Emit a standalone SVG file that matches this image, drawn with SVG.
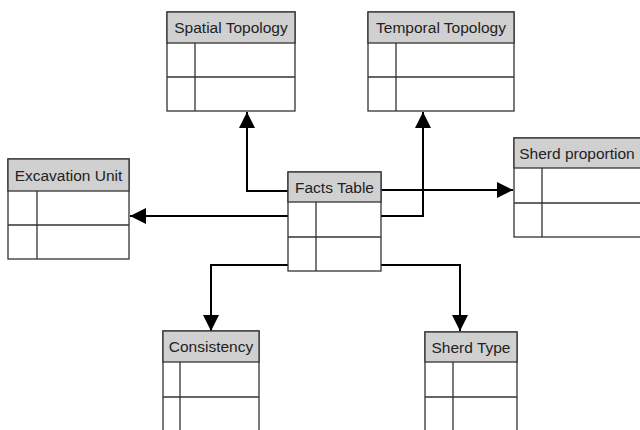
<svg xmlns="http://www.w3.org/2000/svg" width="640" height="430" viewBox="0 0 640 430">
<style>
.box{fill:#fff;stroke:#333;stroke-width:1.3}
.hdr{fill:#d0d0d0;stroke:#333;stroke-width:1.3}
.ln{stroke:#333;stroke-width:1.3;fill:none}
.lbl{font-family:"Liberation Sans",Arial,sans-serif;font-size:15.5px;fill:#222;text-anchor:middle}
.con{stroke:#000;stroke-width:2;fill:none}
</style>
<defs>
<marker id="arr" viewBox="0 0 16 16" refX="16" refY="8" markerWidth="16" markerHeight="16" markerUnits="userSpaceOnUse" orient="auto">
<path d="M0,0 L16,8 L0,16 Z" fill="#000"/>
</marker>
</defs>
<rect width="640" height="430" fill="#fff"/>
<g id="connectors">
<path class="con" d="M288,191 H247 V112" marker-end="url(#arr)"/>
<path class="con" d="M381,216 H423 V112" marker-end="url(#arr)"/>
<path class="con" d="M381,190 H513" marker-end="url(#arr)"/>
<path class="con" d="M288,216 H130" marker-end="url(#arr)"/>
<path class="con" d="M288,265 H211 V331" marker-end="url(#arr)"/>
<path class="con" d="M381,265 H460 V331" marker-end="url(#arr)"/>
</g>
<g id="spatial-topology">
<rect class="box" x="167" y="12" width="128" height="99"/>
<rect class="hdr" x="167" y="12" width="128" height="31"/>
<path class="ln" d="M167,77 H295 M195,43 V111"/>
<text class="lbl" x="231" y="33">Spatial Topology</text>
</g>
<g id="temporal-topology">
<rect class="box" x="368" y="12" width="146" height="99"/>
<rect class="hdr" x="368" y="12" width="146" height="31"/>
<path class="ln" d="M368,77 H514 M396,43 V111"/>
<text class="lbl" x="441" y="33">Temporal Topology</text>
</g>
<g id="excavation-unit">
<rect class="box" x="8" y="159" width="121" height="100"/>
<rect class="hdr" x="8" y="159" width="121" height="32"/>
<path class="ln" d="M8,225 H129 M37,191 V259"/>
<text class="lbl" x="68.5" y="181">Excavation Unit</text>
</g>
<g id="facts-table">
<rect class="box" x="288" y="172" width="93" height="99"/>
<rect class="hdr" x="288" y="172" width="93" height="30"/>
<path class="ln" d="M288,237 H381 M316,202 V271"/>
<text class="lbl" x="334.5" y="193">Facts Table</text>
</g>
<g id="sherd-proportion">
<rect class="box" x="514" y="138" width="130" height="99"/>
<rect class="hdr" x="514" y="138" width="130" height="30"/>
<path class="ln" d="M514,203 H644 M542,168 V237"/>
<text class="lbl" x="577" y="159">Sherd proportion</text>
</g>
<g id="consistency">
<rect class="box" x="163" y="331" width="96" height="110"/>
<rect class="hdr" x="163" y="331" width="96" height="31"/>
<path class="ln" d="M163,397 H259 M180,362 V441"/>
<text class="lbl" x="211" y="352">Consistency</text>
</g>
<g id="sherd-type">
<rect class="box" x="425" y="332" width="92" height="110"/>
<rect class="hdr" x="425" y="332" width="92" height="30"/>
<path class="ln" d="M425,397 H517 M453,362 V442"/>
<text class="lbl" x="471" y="353">Sherd Type</text>
</g>
</svg>
